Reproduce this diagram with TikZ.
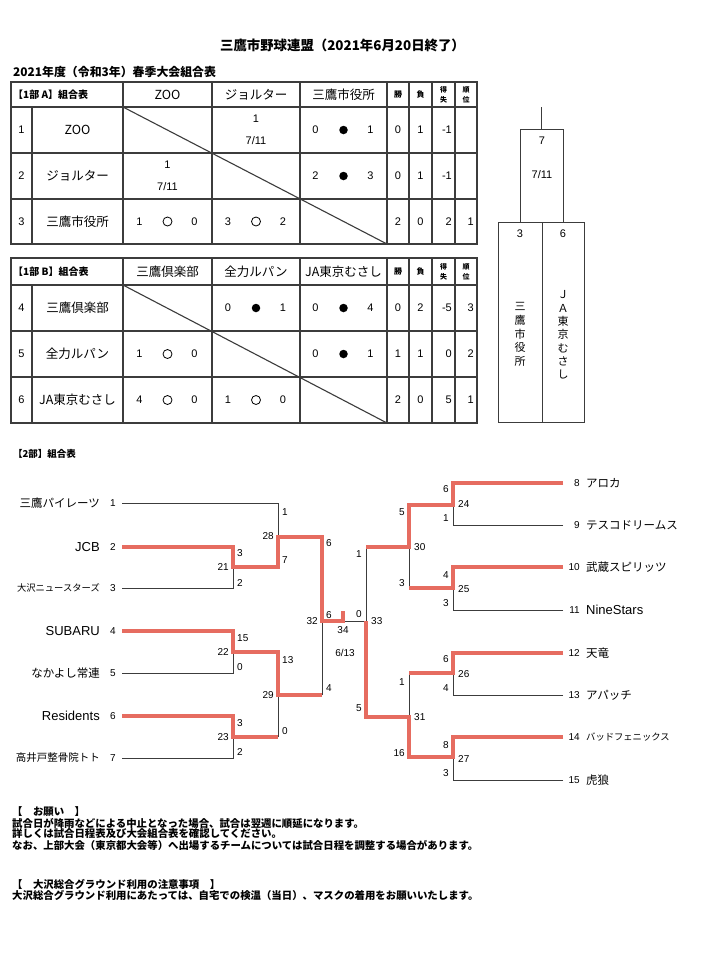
\documentclass[tikz,border=0pt]{standalone}
\usepackage{fontspec}
\setmainfont{Liberation Sans}
\newfontfamily\jp{Noto Sans CJK JP}
\usepackage{xcolor}
\usepackage{tikz}
\usetikzlibrary{calc}
\definecolor{winred}{RGB}{230,108,96}
\definecolor{rulegray}{RGB}{60,60,60}

\begin{document}
\begin{tikzpicture}[x=1pt, y=-1pt,
    grid/.style={line width=1.1pt, draw=rulegray},
    headline/.style={font=\jp\bfseries\fontsize{10}{12}\selectfont, anchor=west, inner sep=0pt},
    teamcell/.style={font=\jp\fontsize{12.5}{14}\selectfont, inner sep=1pt},
    numcell/.style={font=\fontsize{11}{13}\selectfont, inner sep=1pt},
    tinyhead/.style={font=\jp\bfseries\fontsize{7}{10}\selectfont, align=center, inner sep=0pt},
    lostmark/.style={circle, fill=black, minimum size=8.5pt, inner sep=0pt},
    wonmark/.style={circle, draw=black, line width=0.8pt, minimum size=9pt, inner sep=0pt},
    boxline/.style={line width=1pt, draw=rulegray},
    loseline/.style={line width=1pt, rulegray},
    winline/.style={line width=3.4pt, winred},
    seed/.style={font=\fontsize{10}{11}\selectfont, inner sep=1pt},
    score/.style={font=\fontsize{10}{11}\selectfont, inner sep=1pt},
    teamname/.style={font=\jp\fontsize{11.5}{13}\selectfont, inner sep=1pt},
    latinname/.style={font=\fontsize{13}{15}\selectfont, inner sep=1pt},
    note/.style={font=\jp\bfseries\fontsize{10.4}{11}\selectfont, anchor=west, inner sep=0pt},
]
\fill[white] (0,0) rectangle (701,962);
\useasboundingbox (0,0) rectangle (701,962);

% === Titles ===
\node[font=\jp\bfseries\fontsize{13.4}{15}\selectfont] (title) at (342.5,45) {三鷹市野球連盟（2021年6月20日終了）};
\node[headline, font=\jp\bfseries\fontsize{11.9}{14}\selectfont] (season) at (13,72) {2021年度（令和3年）春季大会組合表};

% === League grids (A and B) ===
\foreach \t/\h/\ra/\rb/\b in {82/107/153/199/244, 258/285/331/377/423}{
    \draw[grid] (11,\t) rectangle (477,\b);
    \foreach \y in {\h,\ra,\rb} \draw[grid] (11,\y) -- (477,\y);
    \draw[grid] (32,\h) -- (32,\b);
    \foreach \x in {123,212,300,387,409,432,455} \draw[grid] (\x,\t) -- (\x,\b);
    \draw[grid] (123,\h) -- (387,\b);
}

% === League A ===
\node[headline] (hdA) at (13,94.5) {【1部 A】組合表};
\node[teamcell] (hA1) at (167.5,94.5) {ZOO};
\node[teamcell] (hA2) at (256,94.5) {ジョルター};
\node[teamcell] (hA3) at (343.5,94.5) {三鷹市役所};
\node[tinyhead, font=\jp\bfseries\fontsize{8}{10}\selectfont] (wA) at (398,94.5) {勝};
\node[tinyhead, font=\jp\bfseries\fontsize{8}{10}\selectfont] (lA) at (420.5,94.5) {負};
\node[tinyhead] (dA) at (443.5,95) {得\\失};
\node[tinyhead] (rA) at (466,95) {順\\位};

\foreach \n/\y/\name in {1/130/ZOO, 2/176/ジョルター, 3/221.5/三鷹市役所}{
    \node[numcell] (nA\n) at (21.5,\y) {\n};
    \node[teamcell] (tA\n) at (77.5,\y) {\name};
}
\foreach \x/\y/\a/\s/\b [count=\i] in {343.5/130/0/lostmark/1, 343.5/176/2/lostmark/3,
        167.5/221.5/1/wonmark/0, 256/221.5/3/wonmark/2}{
    \node[numcell] (aA\i) at ({\x-28},\y) {\a};
    \node[\s] (mA\i) at (\x,\y) {};
    \node[numcell] (bA\i) at ({\x+27},\y) {\b};
}
\node[numcell] (gA1) at (256,119) {1};
\node[numcell] (dtA1) at (256,141) {7/11};
\node[numcell] (gA2) at (167.5,165) {1};
\node[numcell] (dtA2) at (167.5,187) {7/11};
\foreach \y/\w/\l/\d/\r [count=\i] in {130/0/1/-1/{}, 176/0/1/-1/{}, 221.5/2/0/2/1}{
    \node[numcell] (swA\i) at (398,\y) {\w};
    \node[numcell] (slA\i) at (420.5,\y) {\l};
    \node[numcell, anchor=east] (sdA\i) at (453,\y) {\d};
    \node[numcell, anchor=east] (srA\i) at (475,\y) {\r};
}

% === League B ===
\node[headline] (hdB) at (13,271.5) {【1部 B】組合表};
\node[teamcell] (hB1) at (167.5,271.5) {三鷹倶楽部};
\node[teamcell] (hB2) at (256,271.5) {全力ルパン};
\node[teamcell] (hB3) at (343.5,271.5) {JA東京むさし};
\node[tinyhead, font=\jp\bfseries\fontsize{8}{10}\selectfont] (wB) at (398,271.5) {勝};
\node[tinyhead, font=\jp\bfseries\fontsize{8}{10}\selectfont] (lB) at (420.5,271.5) {負};
\node[tinyhead] (dB) at (443.5,272) {得\\失};
\node[tinyhead] (rB) at (466,272) {順\\位};

\foreach \n/\y/\name in {4/308/三鷹倶楽部, 5/354/全力ルパン, 6/400/JA東京むさし}{
    \node[numcell] (nB\n) at (21.5,\y) {\n};
    \node[teamcell] (tB\n) at (77.5,\y) {\name};
}
\foreach \x/\y/\a/\s/\b [count=\i] in {256/308/0/lostmark/1, 343.5/308/0/lostmark/4,
        167.5/354/1/wonmark/0, 343.5/354/0/lostmark/1,
        167.5/400/4/wonmark/0, 256/400/1/wonmark/0}{
    \node[numcell] (aB\i) at ({\x-28},\y) {\a};
    \node[\s] (mB\i) at (\x,\y) {};
    \node[numcell] (bB\i) at ({\x+27},\y) {\b};
}
\foreach \y/\w/\l/\d/\r [count=\i] in {308/0/2/-5/3, 354/1/1/0/2, 400/2/0/5/1}{
    \node[numcell] (swB\i) at (398,\y) {\w};
    \node[numcell] (slB\i) at (420.5,\y) {\l};
    \node[numcell, anchor=east] (sdB\i) at (453,\y) {\d};
    \node[numcell, anchor=east] (srB\i) at (475,\y) {\r};
}

% === Division 1 final ===
\node[boxline, minimum width=43pt, minimum height=93pt, inner sep=0pt] (fin) at (541.5,175.5) {};
\node[boxline, minimum width=44pt, minimum height=200pt, inner sep=0pt] (lb3) at (520,322) {};
\node[boxline, minimum width=42pt, minimum height=200pt, inner sep=0pt] (lb6) at (563,322) {};
\coordinate (champ) at (541.5,107);
\draw[boxline] (fin.north) -- (champ);
\node[numcell] (fg) at (542,141) {7};
\node[numcell] (fd) at (542,175) {7/11};
\node[numcell] (fs3) at (520,234) {3};
\node[numcell] (fs6) at (563,234) {6};
\node[align=center, font=\jp\fontsize{11}{13.75}\selectfont] (fn3) at (520,334.5) {三\\鷹\\市\\役\\所};
\node[align=center, font=\jp\fontsize{11}{13.3}\selectfont] (fn6) at (563,335) {Ｊ\\Ａ\\東\\京\\む\\さ\\し};

% === Division 2 bracket ===
\node[headline, font=\jp\bfseries\fontsize{9.5}{11}\selectfont] (hd2) at (13,454) {【2部】組合表};

\foreach \n/\y in {1/503,2/547,3/588,4/631,5/673,6/716,7/758}{
    \node[seed] (s\n) at (113,\y) {\n};
    \coordinate (a\n) at (122,\y);
}
\foreach \n/\y in {8/483,9/525,10/567,11/610,12/653,13/695,14/737,15/780}{
    \node[seed, anchor=east] (s\n) at (581,\y) {\n};
    \coordinate (a\n) at (563,\y);
}

\node[teamname, anchor=east] (n1) at (101,503) {三鷹パイレーツ};
\node[latinname, anchor=east] (n2) at (101,547) {JCB};
\node[teamname, anchor=east, font=\jp\fontsize{9.3}{11}\selectfont] (n3) at (101,588) {大沢ニュースターズ};
\node[latinname, anchor=east] (n4) at (101,631) {SUBARU};
\node[teamname, anchor=east] (n5) at (101,673) {なかよし常連};
\node[latinname, anchor=east] (n6) at (101,716) {Residents};
\node[teamname, anchor=east, font=\jp\fontsize{10.5}{12}\selectfont] (n7) at (101,758) {高井戸整骨院トト};
\node[teamname, anchor=west] (n8) at (585,483) {アロカ};
\node[teamname, anchor=west] (n9) at (585,525) {テスコドリームス};
\node[teamname, anchor=west] (n10) at (585,567) {武蔵スピリッツ};
\node[latinname, anchor=west] (n11) at (585,610) {NineStars};
\node[teamname, anchor=west] (n12) at (585,653) {天竜};
\node[teamname, anchor=west] (n13) at (585,695) {アパッチ};
\node[teamname, anchor=west, font=\jp\fontsize{9.3}{11}\selectfont] (n14) at (585,737) {バッドフェニックス};
\node[teamname, anchor=west] (n15) at (585,780) {虎狼};

% match junctions
\coordinate (m21) at (233,567);
\coordinate (m22) at (233,652);
\coordinate (m23) at (233,737);
\coordinate (m28) at (278,537);
\coordinate (m29) at (278,695);
\coordinate (m32) at (322,621);
\coordinate (m34) at (343,621);
\coordinate (m33) at (366,621);
\coordinate (m30) at (409,547);
\coordinate (m31) at (409,717);
\coordinate (m24) at (453,505);
\coordinate (m25) at (453,588);
\coordinate (m26) at (453,673);
\coordinate (m27) at (453,757);

% losing paths
\draw[loseline] (a1) -| (m28);
\draw[loseline] (a3) -| (m21);
\draw[loseline] (a5) -| (m22);
\draw[loseline] (a7) -| (m23);
\draw[loseline] (m23 -| m29) -- (m29);
\draw[loseline] (m29 -| m32) -- (m32);
\draw[loseline] (m34) -- (m33);
\draw[loseline] (a9) -| (m24);
\draw[loseline] (a11) -| (m25);
\draw[loseline] (a13) -| (m26);
\draw[loseline] (a15) -| (m27);
\draw[loseline] (m25 -| m30) -- (m30);
\draw[loseline] (m26 -| m31) -- (m31);
\draw[loseline] (m30 -| m33) -- (m33);

% winning paths
\draw[winline] (a2) -| (m21) -| (m28) -| (m32) -- (m34) -- ++(0,-10);
\draw[winline] (a4) -| (m22) -| (m29) -- (m29 -| m32);
\draw[winline] (a6) -| (m23) -- (m23 -| m29);
\draw[winline] (a8) -| (m24) -| (m30) -- (m30 -| m33);
\draw[winline] (a10) -| (m25) -- (m25 -| m30);
\draw[winline] (a12) -| (m26) -- (m26 -| m31);
\draw[winline] (a14) -| (m27) -| (m31) -| (m33);

% scores, left half
\foreach \x/\y/\v in {236/553/3, 236/583/2, 236/638/15, 236/667/0, 236/723/3, 236/752/2,
        281/512/1, 281/560/7, 281/660/13, 281/731/0, 325/543/6, 325/615/6, 325/688/4}{
    \node[score, anchor=west] (sc\x-\y) at (\x,\y) {\v};
}
\foreach \x/\y/\v in {230/567/21, 230/652/22, 230/737/23, 275/536/28, 275/695/29, 319/621/32}{
    \node[score, anchor=east] (gm\v) at (\x,\y) {\v};
}

% scores, right half
\foreach \x/\y/\v in {363/554/1, 363/708/5, 363/614/0, 406/512/5, 406/583/3, 406/682/1, 406/753/16,
        450/489/6, 450/518/1, 450/575/4, 450/603/3, 450/659/6, 450/688/4, 450/745/8, 450/773/3}{
    \node[score, anchor=east] (sc\x-\y) at (\x,\y) {\v};
}
\foreach \x/\y/\v in {370/621/33, 413/547/30, 413/717/31, 457/504/24, 457/589/25, 457/674/26, 457/759/27}{
    \node[score, anchor=west] (gm\v) at (\x,\y) {\v};
}
\node[score] (gm34) at (343,630) {34};
\node[score] (fday) at (345,653) {6/13};

% === Notes ===
\node[note] (ask0) at (12,812) {【　お願い　】};
\node[note] (ask1) at (12,823) {試合日が降雨などによる中止となった場合、試合は翌週に順延になります。};
\node[note] (ask2) at (12,834) {詳しくは試合日程表及び大会組合表を確認してください。};
\node[note] (ask3) at (12,845) {なお、上部大会（東京都大会等）へ出場するチームについては試合日程を調整する場合があります。};
\node[note] (use0) at (12,884) {【　大沢総合グラウンド利用の注意事項　】};
\node[note] (use1) at (12,895) {大沢総合グラウンド利用にあたっては、自宅での検温（当日）、マスクの着用をお願いいたします。};

\end{tikzpicture}
\end{document}
